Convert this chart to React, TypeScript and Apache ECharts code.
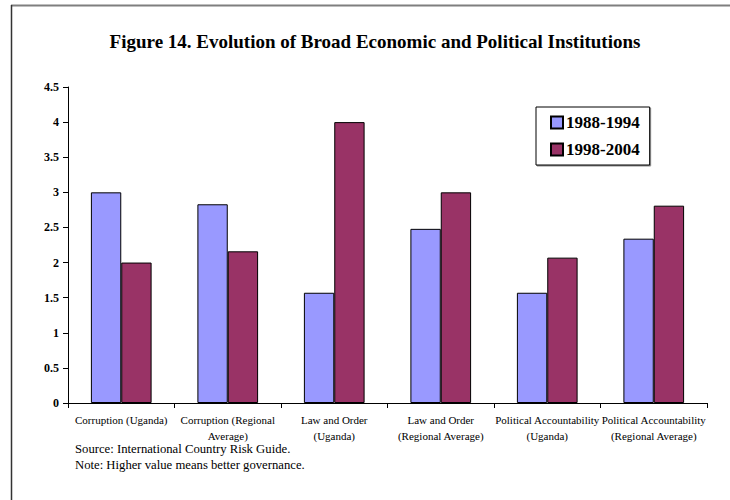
import React, { useEffect, useRef } from "react";
import * as echarts from "echarts";

const categories = [
  "Corruption (Uganda)",
  "Corruption (Regional\nAverage)",
  "Law and Order\n(Uganda)",
  "Law and Order\n(Regional Average)",
  "Political Accountability\n(Uganda)",
  "Political Accountability\n(Regional Average)",
];
const series1988 = [3.0, 2.83, 1.57, 2.48, 1.57, 2.34];
const series1998 = [2.0, 2.16, 4.0, 3.0, 2.07, 2.81];
const seriesNames = ["1988-1994", "1998-2004"];
const titleText = "Figure 14. Evolution of Broad Economic and Political Institutions";
const notes = [
  "Source: International Country Risk Guide.",
  "Note: Higher value means better governance.",
];

const FONT = "Liberation Serif";

export default function App() {
  const ref = useRef<HTMLDivElement>(null);
  useEffect(() => {
    if (!ref.current) return;
    const chart = echarts.init(ref.current, undefined, { renderer: "svg" });
    const barStyle = (color: string) => ({
      color,
      borderColor: "#000",
      borderWidth: 1,
    });
    chart.setOption({
      animation: false,
      backgroundColor: "#fff",
      textStyle: { fontFamily: FONT },
      title: {
        text: titleText,
        left: 370,
        textAlign: "center",
        top: 27,
        textStyle: { fontFamily: FONT, fontSize: 19, fontWeight: "bold", color: "#000" },
      },
      legend: {
        orient: "vertical",
        left: 536,
        top: 107,
        padding: [7, 10, 7, 14],
        itemGap: 10,
        itemWidth: 12,
        itemHeight: 12,
        icon: "rect",
        borderColor: "#000",
        borderWidth: 1,
        backgroundColor: "#fff",
        shadowColor: "rgba(0,0,0,0.45)",
        shadowOffsetX: 1,
        shadowOffsetY: 1,
        shadowBlur: 0,
        textStyle: { fontFamily: FONT, fontSize: 17, fontWeight: "bold", color: "#000", padding: [0, 0, 0, -2] },
        data: seriesNames,
      },
      grid: { left: 68, right: 23, top: 87, bottom: 97, containLabel: false },
      xAxis: {
        type: "category",
        data: categories,
        axisLine: { lineStyle: { color: "#000", width: 1 } },
        axisTick: { show: true, length: 5, lineStyle: { color: "#000" } },
        axisLabel: {
          interval: 0,
          margin: 9,
          fontFamily: FONT,
          fontSize: 11,
          color: "#000",
          lineHeight: 16,
        },
      },
      yAxis: {
        type: "value",
        min: 0,
        max: 4.5,
        interval: 0.5,
        splitLine: { show: false },
        axisLine: { show: true, lineStyle: { color: "#000", width: 1 } },
        axisTick: { show: true, length: 5, lineStyle: { color: "#000" } },
        axisLabel: {
          margin: 9,
          fontFamily: FONT,
          fontSize: 12,
          fontWeight: "bold",
          color: "#000",
        },
      },
      series: [
        {
          name: seriesNames[0],
          type: "bar",
          data: series1988,
          barGap: "0%",
          barCategoryGap: "43%",
          itemStyle: barStyle("#9999FF"),
        },
        {
          name: seriesNames[1],
          type: "bar",
          data: series1998,
          barGap: "0%",
          barCategoryGap: "43%",
          itemStyle: barStyle("#993366"),
        },
      ],
      graphic: [
        {
          type: "line",
          shape: { x1: 11, y1: 5.5, x2: 730, y2: 5.5 },
          style: { stroke: "#7f7f7f", lineWidth: 2 },
        },
        {
          type: "line",
          shape: { x1: 11.5, y1: 5, x2: 11.5, y2: 500 },
          style: { stroke: "#333", lineWidth: 1.5 },
        },
        ...notes.map((t, i) => ({
          type: "text",
          x: 75,
          y: 449 + i * 16,
          style: {
            text: t,
            fontFamily: FONT,
            fontSize: 12.7,
            fill: "#000",
            textVerticalAlign: "middle",
            verticalAlign: "middle",
          },
        })),
      ],
    });
    return () => chart.dispose();
  }, []);
  return (
    <div
      ref={ref}
      style={{ position: "absolute", left: 0, top: 0, width: 730, height: 500 }}
    />
  );
}
